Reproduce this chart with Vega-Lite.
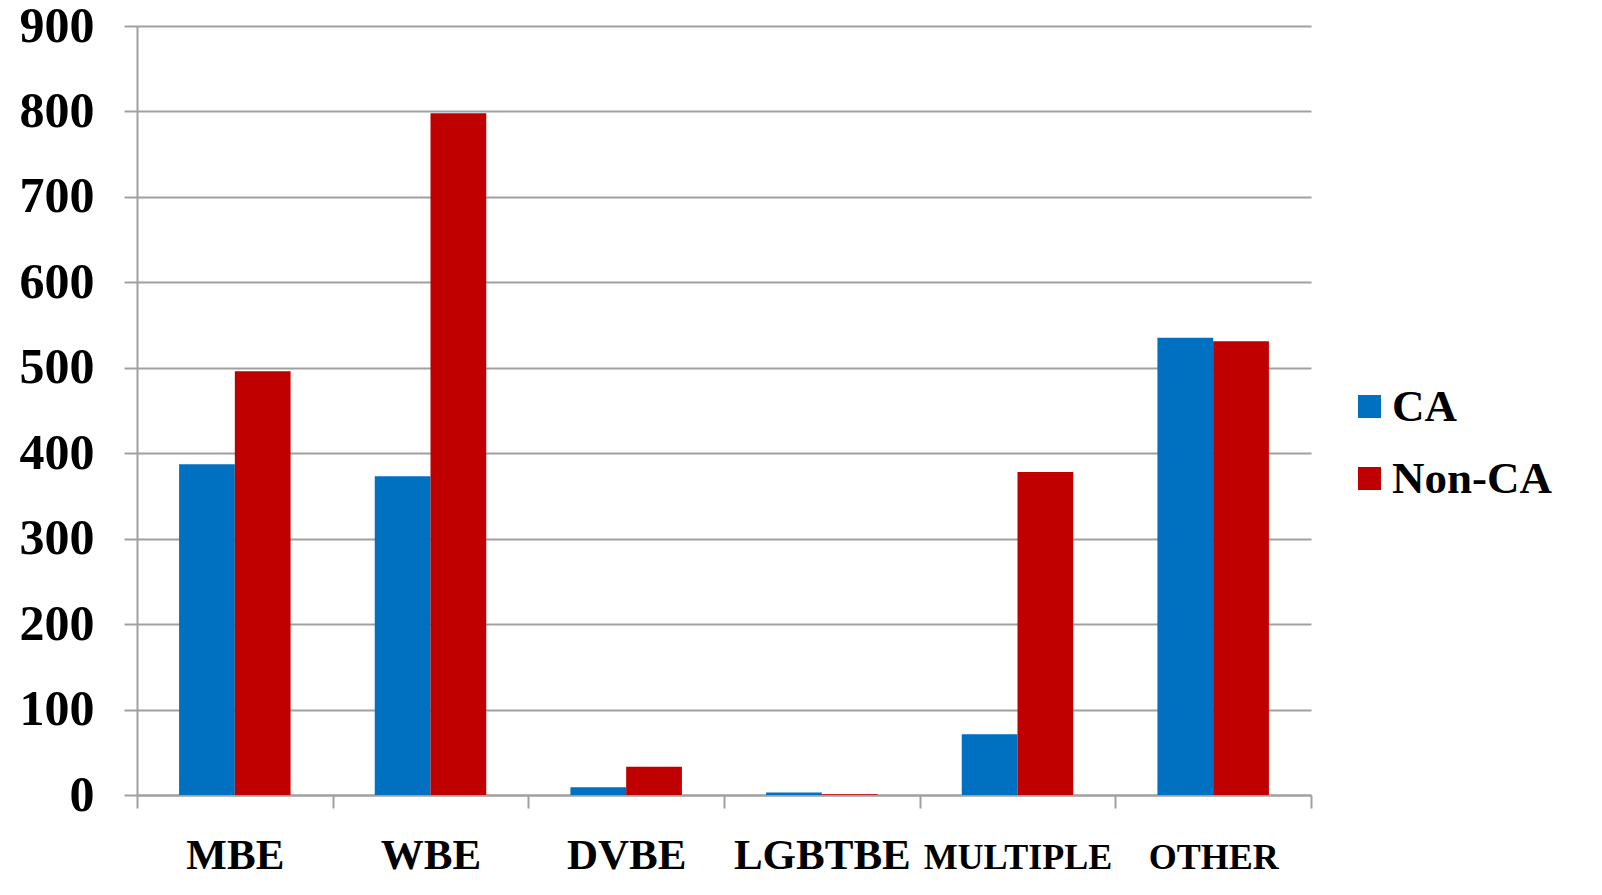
{
  "$schema": "https://vega.github.io/schema/vega-lite/v6.json",
  "width": 1174,
  "height": 769,
  "autosize": {"type": "none"},
  "padding": {"left": 137, "top": 26, "right": 291, "bottom": 100},
  "background": "white",
  "data": {
    "values": [
      {"category": "MBE", "series": "CA", "value": 387},
      {"category": "MBE", "series": "Non-CA", "value": 496},
      {"category": "WBE", "series": "CA", "value": 373},
      {"category": "WBE", "series": "Non-CA", "value": 798},
      {"category": "DVBE", "series": "CA", "value": 9},
      {"category": "DVBE", "series": "Non-CA", "value": 33},
      {"category": "LGBTBE", "series": "CA", "value": 3},
      {"category": "LGBTBE", "series": "Non-CA", "value": 1},
      {"category": "Multiple", "series": "CA", "value": 71},
      {"category": "Multiple", "series": "Non-CA", "value": 378},
      {"category": "Other", "series": "CA", "value": 535},
      {"category": "Other", "series": "Non-CA", "value": 531}
    ]
  },
  "config": {
    "view": {"stroke": null},
    "font": "Liberation Serif"
  },
  "mark": {"type": "bar"},
  "encoding": {
    "x": {
      "field": "category",
      "type": "nominal",
      "sort": ["MBE", "WBE", "DVBE", "LGBTBE", "Multiple", "Other"],
      "scale": {"paddingInner": 0, "paddingOuter": 0},
      "axis": {
        "title": null,
        "labelAngle": 0,
        "labelFont": "Liberation Serif",
        "labelFontWeight": "bold",
        "labelFontSize": {"expr": "datum.value == 'Multiple' || datum.value == 'Other' ? 36 : 43"},
        "labelExpr": "datum.value ? upper(datum.value) : ''",
        "labelColor": "black",
        "labelPadding": 60,
        "labelLimit": 400,
        "labelBaseline": "alphabetic",
        "labelOverlap": false,
        "tickBand": "extent",
        "tickSize": 13,
        "tickColor": "#a0a0a0",
        "tickWidth": 2,
        "domainColor": "#a0a0a0",
        "domainWidth": 2,
        "grid": false
      }
    },
    "xOffset": {
      "field": "series",
      "type": "nominal",
      "scale": {"paddingInner": 0, "paddingOuter": 0.755}
    },
    "y": {
      "field": "value",
      "type": "quantitative",
      "scale": {"domain": [0, 900], "nice": false},
      "axis": {
        "title": null,
        "values": [0, 100, 200, 300, 400, 500, 600, 700, 800, 900],
        "labelFont": "Liberation Serif",
        "labelFontWeight": "bold",
        "labelFontSize": 50,
        "labelColor": "black",
        "labelPadding": 30,
        "tickSize": 13,
        "tickColor": "#a0a0a0",
        "tickWidth": 2,
        "domainColor": "#a0a0a0",
        "domainWidth": 2,
        "gridColor": "#a0a0a0",
        "gridWidth": 2
      }
    },
    "color": {
      "field": "series",
      "type": "nominal",
      "scale": {"domain": ["CA", "Non-CA"], "range": ["#0070C0", "#C00000"]},
      "legend": {
        "title": null,
        "orient": "none",
        "legendX": 1210,
        "legendY": 358,
        "symbolType": "square",
        "symbolSize": 529,
        "symbolStrokeWidth": 0,
        "labelFont": "Liberation Serif",
        "labelFontWeight": "bold",
        "labelFontSize": 45,
        "labelColor": "black",
        "labelOffset": 0,
        "rowPadding": 26,
        "labelLimit": 400
      }
    }
  }
}
